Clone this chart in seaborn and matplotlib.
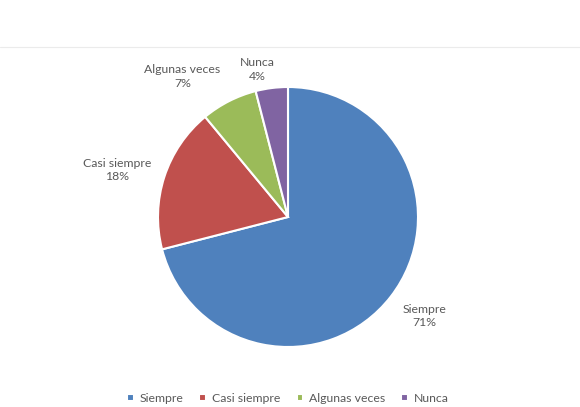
import numpy as np
import matplotlib
matplotlib.use("Agg")
import matplotlib.pyplot as plt
import seaborn as sns
from matplotlib.lines import Line2D

# Data
categories = ["Siempre", "Casi siempre", "Algunas veces", "Nunca"]
percentages = [71, 18, 7, 4]
colors = ["#4F81BD", "#C0504D", "#9BBB59", "#8064A2"]

sns.set_theme(style="white")
plt.rcParams["font.family"] = ["Lato", "DejaVu Sans"]

fig = plt.figure(figsize=(5.8, 4.07), dpi=100)
ax = fig.add_axes([158 / 580, 60 / 407, 260 / 580, 260 / 407])

wedges, _ = ax.pie(percentages, colors=colors, startangle=90, counterclock=False,
                   wedgeprops=dict(edgecolor="white", linewidth=1.5))
ax.set_xlim(-1, 1)
ax.set_ylim(-1, 1)
ax.axis("off")

# Data labels outside the slices
label_dist = [1.294, 1.364, 1.35, 1.16]
label_shift = [1.8, 2.6, 10, 4.5]
for w, name, pct, d, s in zip(wedges, categories, percentages, label_dist, label_shift):
    ang = np.deg2rad((w.theta1 + w.theta2) / 2 + s)
    ax.text(d * np.cos(ang), d * np.sin(ang), f"{name}\n{pct}%",
            ha="center", va="center", fontsize=8.8, color="#595959",
            linespacing=1.3, clip_on=False)

ax.legend(wedges, categories, loc="lower center", bbox_to_anchor=(0.5, -0.26),
          ncol=4, frameon=False, fontsize=8.8, handlelength=0.55, handleheight=0.55,
          handletextpad=0.5, columnspacing=1.3, labelcolor="#595959")

fig.add_artist(Line2D([0, 1], [1 - 47 / 407, 1 - 47 / 407], color="#EBEBEB", lw=0.8))

fig.savefig("out.png", dpi=100)
